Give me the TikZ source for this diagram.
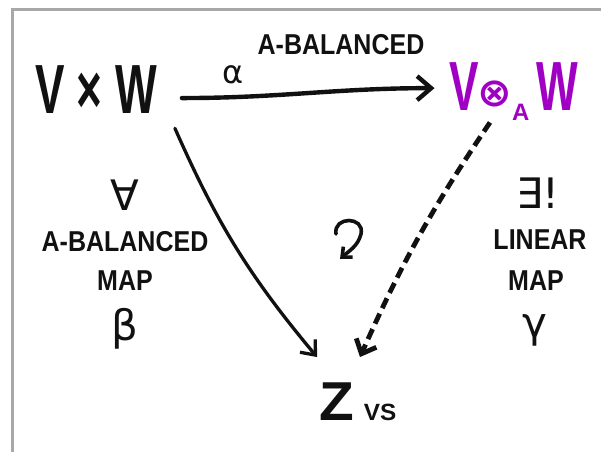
\documentclass[tikz,border=0pt]{standalone}
\usepackage{fontspec}
\setmainfont{Liberation Sans}
\newfontfamily\symbfont{DejaVu Sans}
\usetikzlibrary{arrows.meta}
\definecolor{ink}{HTML}{111111}
\definecolor{tenspurple}{RGB}{160,0,196}
\definecolor{framegray}{HTML}{A8A8A8}
\tikzset{
  bigtext/.style={text=ink,font=\bfseries\fontsize{48}{48}\selectfont,
                  xscale=0.92,yscale=1.45,inner sep=0pt,anchor=base},
  capstext/.style={text=ink,font=\bfseries\fontsize{25}{25}\selectfont,
                   yscale=1.15,inner sep=0pt},
  symbtext/.style={text=ink,font=\symbfont\fontsize{42}{42}\selectfont,
                   inner sep=0pt},
  mainarr/.style={-{Straight Barb[length=14pt,width=24pt]},line width=4.4pt,
                  draw=ink,line cap=round},
  sidearr/.style={-{Straight Barb[length=12pt,width=20pt]},line width=3.3pt,
                  draw=ink,line cap=round},
  dasharr/.style={-{Straight Barb[length=12pt,width=22pt]},line width=4.8pt,
                  draw=ink,dash pattern=on 11pt off 6pt},
  curlarr/.style={-{Straight Barb[length=8pt,width=14pt]},line width=3.6pt,
                  draw=ink,line cap=round},
  framebox/.style={draw=framegray,line width=3pt}
}

\begin{document}
\begin{tikzpicture}[x=1pt,y=-1pt]
    \path[use as bounding box] (0,0) rectangle (601,452);
    \draw[framebox] (12,452) |- (601,10);
    % the three spaces
    \node[bigtext] (vw) at (96,113) {V × W};
    \node[bigtext,text=tenspurple] (tens) at (514,110)
      {V\hspace{-2pt}\raisebox{2.5pt}{\scalebox{0.9}[0.55]{\symbfont\fontsize{50}{50}\selectfont ⊗}}%
       \raisebox{-7pt}{\scalebox{1}[0.63]{\fontsize{26}{26}\selectfont A}}\,W};
    \node[bigtext,font=\bfseries\fontsize{42}{42}\selectfont,xscale=1.47,yscale=0.9]
      (z) at (358,420) {Z\,{\fontsize{18}{18}\selectfont VS}};
    % labels
    \node[symbtext,font=\symbfont\fontsize{32}{32}\selectfont] (alpha)
      at (233,75) {α};
    \node[capstext] (topbal) at (341,45) {A-BALANCED};
    \node[symbtext] (forall) at (125,195) {∀};
    \node[capstext] (leftbal) at (125,242) {A-BALANCED};
    \node[capstext] (leftmap) at (125,281) {MAP};
    \node[symbtext] (beta) at (125,329) {β};
    \node[symbtext] (exists) at (538,193) {∃!};
    \node[capstext] (linear) at (540,240) {LINEAR};
    \node[capstext] (rightmap) at (536,281) {MAP};
    \node[symbtext] (gamma) at (535,330) {γ};
    % maps
    \draw[mainarr] ([xshift=25pt,yshift=-9pt]vw.east) to[out=0,in=180]
      ([xshift=-15pt,yshift=3pt]tens.west);
    \draw[sidearr] ([xshift=18pt,yshift=-15pt]vw.south east) to[bend right=8]
      ([xshift=-41pt,yshift=25pt]z.north);
    \draw[dasharr] ([xshift=-24pt,yshift=-2pt]tens.south) to[bend right=5]
      ([xshift=2pt,yshift=25pt]z.north);
    % commutes
    \draw[curlarr] (336,234) .. controls (333,216) and (365,216) .. (361,234)
      .. controls (358,246) and (349,251) .. (340,259);
\end{tikzpicture}
\end{document}
